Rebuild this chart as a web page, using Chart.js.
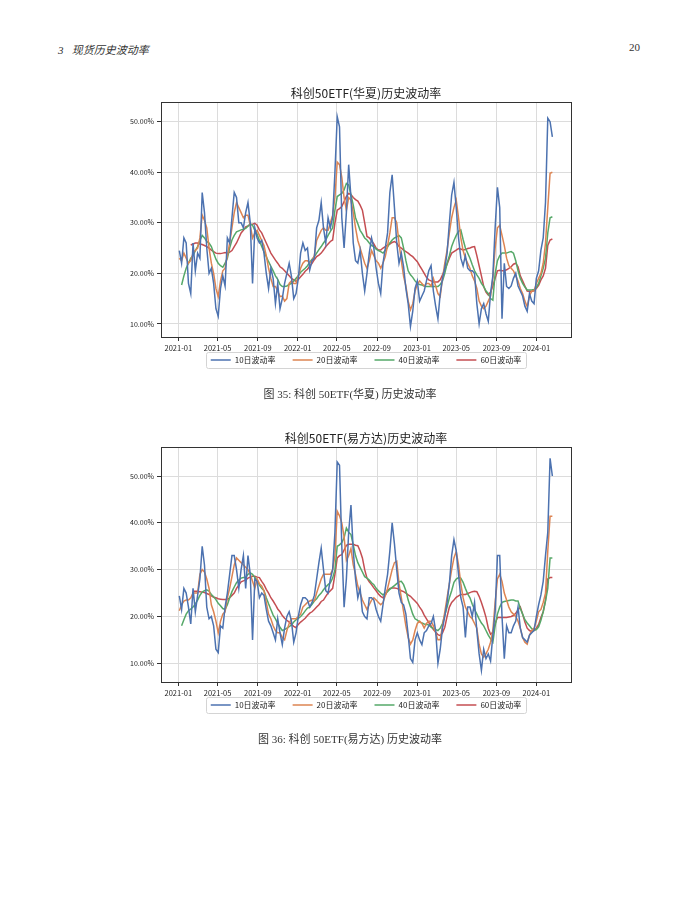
<!DOCTYPE html>
<html>
<head>
<meta charset="utf-8">
<script src="https://cdn.jsdelivr.net/npm/chart.js@4.4.1/dist/chart.umd.min.js"></script>
<style>
  html, body { margin: 0; padding: 0; background: #fff; }
  body { width: 700px; height: 906px; position: relative; overflow: hidden; }
  .txt { position: absolute; font-family: "Liberation Serif", "DejaVu Serif", "Noto Sans CJK SC", serif; color: #333; font-size: 11px; white-space: pre; }
  #head { left: 58px; top: 41px; font-style: italic; }
  #page { right: 60px; top: 41px; }
  .cap { left: 0; width: 700px; text-align: center; }
  canvas { position: absolute; left: 90px; }
</style>
</head>
<body>
<div class="txt" id="head">3   现货历史波动率</div>
<div class="txt" id="page">20</div>

<canvas id="chart-hx" width="490" height="312" style="top:78px"></canvas>
<div class="txt cap" style="top:385px">图 35: 科创 50ETF(华夏) 历史波动率</div>

<canvas id="chart-efd" width="490" height="312" style="top:423px"></canvas>
<div class="txt cap" style="top:730px">图 36: 科创 50ETF(易方达) 历史波动率</div>

<script>
// weekly samples, first one on 2021-01-04
const firstDate = "2021-01-04";
const tickLabels = ["2021-01", "2021-05", "2021-09", "2022-01", "2022-05",
  "2022-09", "2023-01", "2023-05", "2023-09", "2024-01"];
const yTicks = [10, 20, 30, 40, 50];
const seriesNames = ["10日波动率", "20日波动率", "40日波动率", "60日波动率"];
const seriesColors = ["#4C72B0", "#DD8452", "#55A868", "#C44E52"];

// 科创50ETF(华夏)
const hxVol10 = [
  24.5, 22, 27, 26, 18, 16, 26, 20.5, 24, 23,
  36, 32, 25, 20, 21, 18, 13, 11.5, 17, 19.5,
  17.5, 27, 26, 31, 36, 35, 30, 30, 29, 32,
  34, 30, 18, 29, 27, 26, 26.5, 24, 20, 17,
  21, 19, 14, 18, 13, 15, 18, 20, 22, 19.4,
  15, 16, 19, 24, 26, 24.5, 25, 20.7, 22.5, 23,
  29, 30.5, 34, 29, 26, 31, 29, 31, 40, 51,
  49, 31, 25, 32, 41.5, 35, 26, 22.5, 22, 24.5,
  20, 16.5, 20, 24, 27, 25, 21, 18, 16, 22,
  25, 28, 36, 39.5, 33, 26, 22, 24, 21.3, 17,
  14, 9.5, 12.5, 17, 18.5, 14.5, 15.5, 16.5, 18.5, 20.5,
  21.5, 16.5, 13.5, 11, 16, 19, 21, 24, 30, 35.5,
  38, 33, 27, 23, 21.5, 23.5, 21, 20.5, 20.5, 20,
  14, 10, 13, 14, 12, 10.5, 16, 19.5, 29, 37,
  33, 11, 22, 17.4, 17, 17.5, 19, 20, 17.5, 16.5,
  15.5, 13.5, 12.5, 16, 14.5, 14, 19, 20.5, 24.6, 27,
  34, 50.7, 50, 47
];
const hxVol20 = [
  23, 22.5, 24, 23, 22, 22.5, 24, 24.5, 25, 27,
  31.5, 30.5, 29, 25, 22, 20, 17, 15.4, 18.5, 20.5,
  21, 23.5, 26, 29, 32, 34, 33, 32, 31, 31.5,
  31.5, 29.5, 27, 28, 28.5, 27.5, 26.5, 25.5, 23.5, 21,
  19, 17.4, 17.4, 16.5, 15.4, 15.5, 14.5, 15, 18, 18.5,
  18, 18, 19.5, 21, 22, 22.5, 22.5, 22, 22.5, 23.5,
  26.5, 27.5, 28.5, 29, 28.5, 28.5, 30, 31.5, 35, 42,
  41.5, 39, 35, 32.5, 35, 34.5, 32, 29, 26.5, 25,
  23.5, 22, 21, 22.5, 24.5, 23.5, 22.5, 22, 21, 22,
  23.3, 25.5, 28, 31, 31, 30, 26, 22.5, 19.4, 17.5,
  14.5, 12.8, 14, 16.5, 17.8, 18.5, 18, 17.5, 18, 18,
  17.5, 19, 17.5, 16, 15.4, 19, 22, 24.6, 28, 31,
  33, 34.5, 31, 27, 24.5, 23, 22, 21, 19.5, 18.5,
  17, 14.5, 13.5, 13, 13.5, 14.5, 15.5, 19, 25, 29,
  29.5, 27.5, 25.5, 23, 21.5, 21, 20.5, 19.5, 18.5, 17,
  16, 14.5, 13.4, 15.5, 16.5, 16.5, 18, 19, 20, 22,
  26, 33, 39.8, 40
];
const hxVol40 = [
  null, 17.7, 19.5, 21, 22, 23, 23.5, 24.5, 25.3, 26.5,
  27.5, 27, 26.3, 26, 25.3, 24, 22.8, 22, 21.5, 21.2,
  22, 23, 25, 26.6, 27.5, 28.2, 28.4, 28.6, 28.7, 28.9,
  29.3, 29.8, 29.5, 28.5, 27.7, 26.5, 25.3, 24.3, 23.3, 22.3,
  21.4, 20.5, 19.5, 18.8, 17.8, 17.4, 17.4, 17.5, 17.8, 18,
  18.5, 19, 19.5, 20.2, 20.6, 21, 21.5, 22.2, 22.8, 23.3,
  24, 24.7, 25.3, 26, 26.6, 27.5, 28.3, 29, 32.5, 35.2,
  35.5, 35.8, 36.5, 37.8, 37.5, 35.5, 33.5, 31, 29.8, 28.5,
  27.8, 27, 26.6, 26, 25.5, 25.3, 24.8, 24.5, 24.3, 24,
  24.5, 25.2, 26, 26.6, 27, 27.2, 27.5, 27, 25, 22.5,
  20.5, 19.7, 19.2, 18.5, 18, 17.8, 17.7, 17.5, 17.4, 17.4,
  17.4, 17.4, 17.4, 17.4, 17.8, 18.5, 20, 22, 23.5, 25.3,
  26.5, 27.5, 28.3, 28.6, 26.7, 25, 24, 23, 21.7, 20.5,
  19.7, 19, 18, 17.4, 16.5, 16, 15, 14.7, 20, 22.5,
  23.5, 24, 24, 24, 24.2, 24.3, 24, 22.5, 20.5, 19,
  18, 17.3, 16.7, 16.7, 16.7, 16.8, 17.2, 18, 19.5, 21,
  23, 28, 31, 31.2
];
const hxVol60 = [
  null, null, null, null, null, 25.6, 25.8, 26, 26, 25.8,
  25.7, 25.5, 25.3, 25, 24.6, 24.3, 24, 23.9, 23.9, 24,
  24.1, 24, 24.2, 24.5, 25.3, 26, 27, 28, 28.5, 29.2,
  29.4, 29.6, 29.7, 29.9, 29.5, 28.6, 28, 27, 26, 25,
  24, 23.3, 22.6, 22, 21.3, 21, 20.5, 20, 19.5, 19,
  18.7, 18.4, 18.8, 19.3, 19.8, 20.4, 20.8, 21.4, 22, 22.7,
  23.3, 23.6, 24, 24.6, 25.3, 25.8, 26.3, 26.6, 30, 32.5,
  32.8, 33.2, 34.2, 35.2, 35.8, 35.6, 35, 34.6, 34.3, 33.5,
  32.5, 30, 27.3, 27, 26.5, 25.8, 25, 24.6, 24.6, 25,
  25.3, 25.6, 25.8, 26.1, 26.3, 26, 25.3, 25, 24.6, 24.3,
  24, 23.6, 23.3, 22.8, 22.3, 21.5, 20.8, 20, 19.2, 18.7,
  18.5, 18.3, 18.3, 18.3, 18.7, 19.7, 20.7, 21.8, 23, 24,
  24.3, 24.6, 24.9, 24.8, 24.6, 24.7, 24.9, 25, 25.2, 25.3,
  23.5, 21.5, 19.5, 17.4, 16.3, 15.7, 16.3, 17.5, 19, 20.5,
  20.6, 20.5, 20.5, 20.7, 21, 21.3, 21.8, 22, 21.3, 19.5,
  18.5, 17.5, 16.5, 16.4, 16.4, 16.6, 17, 17.6, 18.7, 19.5,
  21, 25.5, 26.6, 26.8
];

// 科创50ETF(易方达)
const efdVol10 = [
  24.4, 21.5, 26, 25, 22, 18.4, 26, 21, 24.5, 28,
  35, 31, 22, 19.5, 20, 18, 13, 12.3, 18, 17.5,
  22, 25, 29, 33, 33, 30, 26, 30, 33, 26,
  33, 29, 15, 28, 27.5, 24, 25, 24.5, 21.5, 19,
  18, 16.5, 15, 19.5, 16.5, 14, 17.5, 20, 21, 19,
  14.5, 16.5, 20, 22.5, 24, 24, 23.5, 22, 23, 24.5,
  28, 31.5, 34.6, 30, 25.5, 25, 28, 30, 38, 53,
  52.3, 35, 22, 28, 38, 43.8, 34, 28, 24, 26,
  21, 20, 19.5, 24, 24, 23.5, 21.5, 20, 19, 22.5,
  26, 29, 34, 40, 35.5, 30, 25, 23, 22.5, 20.5,
  16, 11, 10.2, 15, 16.5, 15, 14, 16.5, 17, 18,
  18.5, 20, 17, 10, 13, 17.5, 20, 23, 27, 33,
  36.4, 34, 29, 24, 22, 15.5, 22, 22, 20, 23,
  17, 12, 8.5, 13, 11, 12, 10.5, 16, 21, 33,
  33, 20, 11, 18, 16.5, 16.5, 18, 19, 22, 17.5,
  15.5, 15, 14.5, 16, 16.5, 17, 20, 22.5, 24.6, 27.5,
  33, 38, 53.8, 50
];
const efdVol20 = [
  21.2, 22.5, 23.3, 23.5, 23.5, 24, 25, 25, 25, 29,
  30, 29.5, 28, 26, 22.5, 21, 19, 16.5, 19, 20.5,
  21, 24, 26, 28.5, 31, 32.5, 32, 31.5, 31, 30.5,
  30, 29, 27.5, 26, 28, 27, 26.5, 25.5, 23, 20.5,
  19.5, 18, 17, 16.5, 16.5, 15.5, 15, 17, 18.5, 19.5,
  19.5, 19.5, 20, 20.5, 22, 22.5, 23, 23.3, 23.5, 23.3,
  25, 26.5, 28, 29, 29, 29, 29, 30, 33, 42.5,
  41.5, 40, 37, 32, 33, 34.5, 31, 29, 26.5, 25,
  23.5, 22.5, 21.5, 22.5, 23.5, 24, 23.5, 23, 22.5, 23,
  24.5, 26, 28, 30, 31.5, 31.8, 27, 24, 21, 18,
  15.5, 14.1, 15, 17, 18.5, 19, 18.5, 17.5, 18.5, 19,
  19, 18, 16.5, 15, 15, 18, 21, 24, 27, 30,
  32.5, 33.9, 31, 27, 24, 22, 21, 20, 19.5, 18.5,
  17.5, 14, 12, 11.3, 12, 13, 14.5, 17, 23, 28,
  29, 27.5, 25, 23.5, 22, 21, 20.5, 20, 19, 17.5,
  15.5, 14.5, 14.1, 16, 17, 17.5, 19, 21, 21.5, 23,
  25, 34, 41.4, 41.4
];
const efdVol40 = [
  null, 18, 19.3, 20.5, 21.2, 21.6, 22, 22.7, 23.5, 24.5,
  25.2, 25.5, 25.7, 25.4, 24.7, 24.2, 23.6, 22.8, 22.3, 21.7,
  21.5, 22.5, 24, 25.3, 26.3, 27.2, 27.8, 28.2, 28.3, 28.3,
  29, 29.3, 29, 28.3, 27.8, 26.7, 26, 25.5, 24, 22.7,
  21.5, 20.3, 19.5, 18.5, 17.7, 17, 17.2, 17.5, 17.8, 18.2,
  18.8, 19.3, 19.6, 20, 20.5, 21.2, 21.8, 22, 22.6, 23.3,
  23.8, 24.5, 25, 25.7, 26.3, 26.8, 27.2, 28.2, 30, 35,
  35.3, 35.8, 36.8, 38.9, 38, 37.5, 35.3, 33, 31.5, 30.5,
  29.5, 28.5, 28.2, 27.8, 27.2, 26.8, 26, 25.5, 25, 24.6,
  25, 25.3, 25.8, 26.2, 26.6, 27, 27.4, 27.5, 26.8, 25.5,
  23.5, 22, 20.5, 19.5, 19.2, 18.8, 18.6, 18.4, 18.3, 18.2,
  17.7, 17.4, 17.2, 17, 17.5, 18.5, 20.3, 22, 24, 25.5,
  27.3, 28, 28.3, 28.2, 27.3, 26, 24.8, 24, 22.6, 21.5,
  20.5, 19.5, 18.6, 18, 17, 16, 15.2, 14.5, 18, 20.5,
  22, 23, 23.2, 23.3, 23.4, 23.5, 23.5, 23.3, 23.3, 21.7,
  20.5, 19.3, 18.6, 18, 17.4, 17, 17.2, 17.8, 19.2, 21,
  23.3, 26, 32.5, 32.5
];
const efdVol60 = [
  null, null, null, null, null, null, 25.4, 25.4, 25.4, 25.3,
  25.2, 25.1, 24.9, 24.7, 24.4, 24.1, 24, 23.8, 23.7, 23.6,
  23.6, 23.6, 24, 24.5, 25, 26, 26.7, 27.4, 27.6, 27.8,
  28.2, 28.4, 28.6, 28.6, 28.4, 28.3, 27.5, 26.8, 25.8, 25,
  24, 23.3, 22.5, 21.6, 21, 20.2, 19.6, 19.2, 18.8, 18.3,
  17.9, 17.6, 18.3, 18.8, 19.2, 19.6, 20.2, 20.7, 21, 21.5,
  22, 22.5, 23.2, 23.5, 24.3, 25, 25.5, 26, 29, 32.5,
  33, 33.2, 34.2, 35.2, 35.4, 35.4, 35.4, 35.2, 35.1, 34,
  32.5, 30, 28.2, 27.4, 26.8, 26.1, 25.5, 24.8, 24.3, 24,
  24.5, 25.5, 26, 26.1, 26.1, 26, 25.8, 25.5, 25.3, 25,
  24.6, 24.3, 23.8, 23.3, 22.8, 22, 21.3, 20.3, 19.5, 18.7,
  18, 17.2, 16.7, 16.1, 15.9, 16.5, 17.7, 20, 22, 23,
  23.5, 24.1, 24.4, 24.7, 24.7, 24.7, 24.9, 25.1, 25.3, 25.4,
  25.3, 24.3, 23, 21.5, 19.8, 17.5, 16.2, 16.6, 18.5, 19.8,
  19.8, 19.8, 19.8, 19.8, 19.9, 20, 20.2, 20.7, 21.4, 22,
  20.5, 18.8, 17.5, 17, 16.8, 17, 17.5, 18.3, 19.8, 21,
  23.5, 28, 28.3, 28.3
];

const DAY = 86400000;
const toDay = (s) => {
  const p = s.split("-").map(Number);
  return Date.UTC(p[0], p[1] - 1, p[2] || 1) / DAY;
};
const dayToLabel = (d) => {
  const dt = new Date(d * DAY);
  return dt.getUTCFullYear() + "-" + String(dt.getUTCMonth() + 1).padStart(2, "0");
};
const start = toDay(firstDate);
const xMin = toDay(tickLabels[0]) - 53;
const xMax = toDay(tickLabels[tickLabels.length - 1]) + 106;

Chart.defaults.font.family = '"Noto Sans CJK SC", "DejaVu Sans", sans-serif';
Chart.defaults.color = "#222";

// dark box around the plot + light frame around the legend, like matplotlib
const framePlugin = {
  id: "frame",
  afterLayout(chart) {
    // pull the legend up right under the date labels
    const lg = chart.legend;
    const dy = chart.chartArea.bottom + 2 - lg.top;
    lg.top += dy;
    lg.bottom += dy;
  },
  afterDraw(chart) {
    const { ctx, chartArea: a } = chart;
    ctx.save();
    ctx.strokeStyle = "#333";
    ctx.lineWidth = 1;
    const l = Math.round(a.left) + 0.5, t = Math.round(a.top) + 0.5;
    ctx.strokeRect(l, t, Math.round(a.right - a.left), Math.round(a.bottom - a.top));
    const boxes = chart.legend.legendHitBoxes;
    if (boxes && boxes.length) {
      const f = boxes[0], last = boxes[boxes.length - 1];
      const x0 = Math.round(f.left - 5) + 0.5;
      const x1 = Math.round(last.left + last.width + 5) + 0.5;
      const y0 = Math.round(f.top - 4) + 0.5;
      const y1 = Math.round(f.top + f.height + 4) + 0.5;
      ctx.strokeStyle = "#d4d4d4";
      ctx.beginPath();
      ctx.roundRect(x0, y0, x1 - x0, y1 - y0, 2);
      ctx.stroke();
    }
    ctx.restore();
  }
};

function makeChart(id, title, series, yMin, yMax) {
  const datasets = series.map((vals, k) => ({
    label: seriesNames[k],
    data: vals.map((v, i) => ({ x: start + i * 7, y: v })),
    borderColor: seriesColors[k],
    backgroundColor: seriesColors[k],
    borderWidth: 1.5,
    pointRadius: 0,
    tension: 0
  }));
  const grid = { color: "#dcdcdc", tickColor: "#333", tickLength: 4, lineWidth: 1 };
  return new Chart(document.getElementById(id), {
    type: "line",
    data: { datasets },
    plugins: [framePlugin],
    options: {
      responsive: false,
      animation: false,
      layout: { padding: { top: 0, right: 9, bottom: 0, left: 0 } },
      plugins: {
        title: {
          display: true,
          fullSize: false,
          text: title,
          font: { size: 12, weight: "normal" },
          padding: { top: 8, bottom: 1.6 }
        },
        legend: {
          position: "bottom",
          fullSize: false,
          labels: {
            usePointStyle: true,
            pointStyle: "line",
            pointStyleWidth: 20,
            boxHeight: 8,
            padding: 17,
            font: { size: 8 }
          }
        },
        tooltip: { enabled: false }
      },
      scales: {
        x: {
          type: "linear",
          min: xMin,
          max: xMax,
          grid,
          border: { display: false },
          afterBuildTicks: (s) => { s.ticks = tickLabels.map((t) => ({ value: toDay(t) })); },
          afterFit: (s) => { s.height = 18; },
          ticks: {
            autoSkip: false,
            maxRotation: 0,
            padding: 3,
            font: { size: 7.5 },
            callback: (v) => dayToLabel(v)
          }
        },
        y: {
          min: yMin,
          max: yMax,
          grid,
          border: { display: false },
          afterBuildTicks: (s) => { s.ticks = yTicks.map((v) => ({ value: v })); },
          afterFit: (s) => { s.width = 71; },
          ticks: {
            padding: 3,
            font: { size: 7 },
            callback: (v) => v.toFixed(2) + "%"
          }
        }
      }
    }
  });
}

makeChart("chart-hx", "科创50ETF(华夏)历史波动率", [hxVol10, hxVol20, hxVol40, hxVol60], 7.4, 53.9);
makeChart("chart-efd", "科创50ETF(易方达)历史波动率", [efdVol10, efdVol20, efdVol40, efdVol60], 6.0, 56.2);
</script>
</body>
</html>
